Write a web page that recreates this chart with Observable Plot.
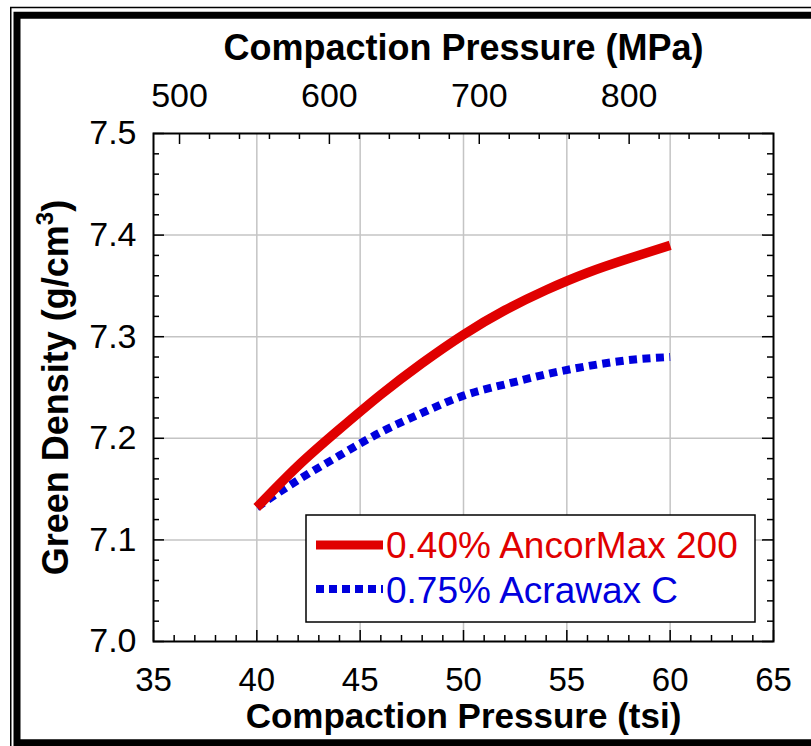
<!DOCTYPE html>
<html>
<head>
<meta charset="utf-8">
<script src="https://cdn.jsdelivr.net/npm/d3@7"></script>
<script src="https://cdn.jsdelivr.net/npm/@observablehq/plot@0.6"></script>
<style>
  body { margin: 0; background: #fff; }
  #chart { position: relative; width: 811px; height: 746px; overflow: hidden; background: #fff; }
  #chart svg { display: block; }
</style>
</head>
<body>
<div id="chart"></div>
<script>
// ---- data ----
const pressureTsi      = [40, 42, 44, 46, 48, 50, 52, 54, 56, 58, 60];
const densityAncorMax  = [7.132, 7.173, 7.209, 7.243, 7.274, 7.302, 7.326, 7.346, 7.363, 7.377, 7.390];
const densityAcrawax   = [7.132, 7.159, 7.183, 7.206, 7.225, 7.242, 7.253, 7.263, 7.271, 7.277, 7.280];
const seriesNames      = ["0.40% AncorMax 200", "0.75% Acrawax C"];
const seriesColors     = ["#e00000", "#0000dd"];
const xTickLabels      = [35, 40, 45, 50, 55, 60, 65];
const yTickLabels      = [7.0, 7.1, 7.2, 7.3, 7.4, 7.5];
const xGrid            = [40, 45, 50, 55, 60];
const yGrid            = [7.1, 7.2, 7.3, 7.4];
const mpaTickLabels    = [500, 600, 700, 800];
const xTitle           = "Compaction Pressure (tsi)";
const x2Title          = "Compaction Pressure (MPa)";
const yTitle           = "Green Density (g/cm3)";
const MPA_PER_TSI      = 13.7895;

// ---- layout ----
const W = 811, H = 746, mL = 153, mR = 38, mT = 133, mB = 105;
const FW = W - mL - mR, FH = H - mT - mB;
const MAJ = 11, MIN = 6;
const font = "'Liberation Sans', Arial, Helvetica, sans-serif";

const red = pressureTsi.map((p, i) => ({p, d: densityAncorMax[i]}));
const blue = pressureTsi.map((p, i) => ({p, d: densityAcrawax[i]}));

const xMinor = d3.range(35, 65.001, 1).filter(v => v % 5 !== 0);
const xMajor = d3.range(35, 65.001, 5);
const yMinor = d3.range(0, 26).map(i => 7 + i * 0.02).filter((v, i) => i % 5 !== 0);
const yMajor = d3.range(0, 6).map(i => 7 + i * 0.1);
const mpaAll = d3.range(500, 881, 20);
const mpaMinor = mpaAll.filter(v => v % 100 !== 0);
const mpaMajor = mpaAll.filter(v => v % 100 === 0);

const tickStyle = {stroke: "black", strokeWidth: 1.5};

const plot = Plot.plot({
  width: W, height: H,
  marginLeft: mL, marginRight: mR, marginTop: mT, marginBottom: mB,
  style: {fontFamily: font, fontSize: "34px", color: "black", background: "white", overflow: "visible"},
  x: {domain: [35, 65]},
  y: {domain: [7.0, 7.5]},
  marks: [
    Plot.gridX(xGrid, {stroke: "#c4c4c4", strokeOpacity: 1, strokeWidth: 1.5}),
    Plot.gridY(yGrid, {stroke: "#c4c4c4", strokeOpacity: 1, strokeWidth: 1.5}),
    Plot.line(blue, {x: "p", y: "d", stroke: seriesColors[1], strokeWidth: 8, strokeDasharray: "8,5.5", strokeLinecap: "butt", curve: "natural"}),
    Plot.line(red, {x: "p", y: "d", stroke: seriesColors[0], strokeWidth: 9.5, strokeLinecap: "butt", curve: "natural"}),
    // bottom ticks (pointing up)
    Plot.ruleX(xMajor, {x: d => d, insetTop: FH - MAJ, ...tickStyle}),
    Plot.ruleX(xMinor, {x: d => d, insetTop: FH - MIN, ...tickStyle}),
    // top ticks in MPa (pointing down)
    Plot.ruleX(mpaMajor, {x: d => d / MPA_PER_TSI, insetBottom: FH - MAJ, ...tickStyle}),
    Plot.ruleX(mpaMinor, {x: d => d / MPA_PER_TSI, insetBottom: FH - MIN, ...tickStyle}),
    // left ticks (pointing right)
    Plot.ruleY(yMajor, {y: d => d, insetRight: FW - MAJ, ...tickStyle}),
    Plot.ruleY(yMinor, {y: d => d, insetRight: FW - MIN, ...tickStyle}),
    // right ticks (pointing left)
    Plot.ruleY(yMajor, {y: d => d, insetLeft: FW - MAJ, ...tickStyle}),
    Plot.ruleY(yMinor, {y: d => d, insetLeft: FW - MIN, ...tickStyle}),
    Plot.frame({stroke: "black", strokeWidth: 2}),
    Plot.axisX({anchor: "bottom", ticks: xTickLabels, tickSize: 0, tickPadding: 26, fontSize: 33, label: null, tickFormat: d => String(d)}),
    Plot.axisY({anchor: "left", ticks: yTickLabels, tickSize: 0, tickPadding: 17, fontSize: 34, label: null, tickFormat: d3.format(".1f")}),
    Plot.text(mpaTickLabels, {x: d => d / MPA_PER_TSI, frameAnchor: "top", dy: -27, lineAnchor: "bottom", fontSize: 34, text: d => String(d)}),
    Plot.text([x2Title], {frameAnchor: "top", dy: -74, lineAnchor: "bottom", fontSize: 36, fontWeight: "bold", text: d => d}),
    Plot.text([xTitle], {frameAnchor: "bottom", dy: 86, lineAnchor: "bottom", fontSize: 35, fontWeight: "bold", text: d => d}),
    Plot.text([yTitle], {frameAnchor: "left", dx: -86, rotate: -90, lineAnchor: "bottom", textAnchor: "middle", fontSize: 36, fontWeight: "bold", text: d => d})
  ]
});

document.getElementById("chart").appendChild(plot);

const svg = d3.select(plot);

// superscript "3" in the y title
svg.selectAll("text").filter(function () { return this.textContent === yTitle; }).each(function () {
  const t = d3.select(this);
  t.text(null);
  t.append("tspan").text("Green Density (g/cm");
  t.append("tspan").attr("font-size", 24).attr("dy", -15).text("3");
  t.append("tspan").attr("dy", 15).text(")");
});

// ---- legend and outer border (decoration) ----
const lg = svg.append("g").attr("font-family", font).attr("text-anchor", "start");
lg.append("rect").attr("x", 306).attr("y", 515).attr("width", 449).attr("height", 107)
  .attr("fill", "white").attr("stroke", "black").attr("stroke-width", 1.5);
const rowsY = [545, 589];
const baseY = [558, 603];
seriesNames.forEach((name, i) => {
  lg.append("line").attr("x1", 316).attr("x2", 383).attr("y1", rowsY[i]).attr("y2", rowsY[i])
    .attr("stroke", seriesColors[i]).attr("stroke-width", i === 0 ? 9 : 8)
    .attr("stroke-dasharray", i === 0 ? null : "8,5");
  lg.append("text").attr("x", 386).attr("y", baseY[i]).attr("font-size", 37)
    .attr("text-anchor", "start").attr("fill", seriesColors[i]).text(name);
});
const bd = svg.append("g").attr("fill", "none").attr("stroke", "black");
bd.append("rect").attr("x", 10.75).attr("y", 7.5).attr("width", 1000).attr("height", 1000).attr("stroke-width", 1.5);
bd.append("rect").attr("x", 17).attr("y", 15.25).attr("width", 1000).attr("height", 727.5).attr("stroke-width", 7);
</script>
</body>
</html>
